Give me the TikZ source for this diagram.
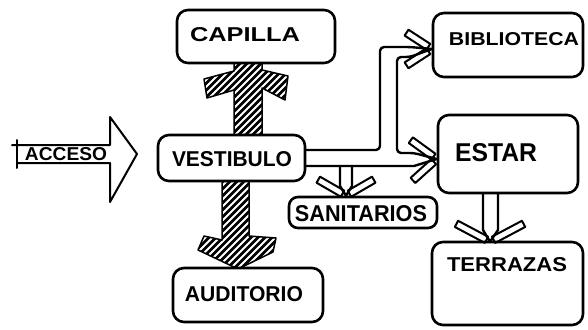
\documentclass[tikz,border=0pt]{standalone}
\usepackage{fontspec}
\setmainfont{Liberation Sans}
\usetikzlibrary{calc}
\newcommand{\fitt}[3]{\resizebox{#1pt}{#2pt}{#3}}
\tikzset{
  box/.style={draw=black, line width=2.6pt, rounded corners=11pt, fill=white, inner sep=0pt},
  lbl/.style={inner sep=0pt, font=\bfseries},
  conn/.style={line width=2.4pt, line join=round, line cap=round},
  barbline/.style={line width=2pt, line join=round},
  pics/barbs/.style 2 args={code={
    \draw[barbline, rotate=#1] (4,-3.5) rectangle (#2,3.5);
    \draw[barbline, rotate=-#1] (4,-3.5) rectangle (#2,3.5);
  }},
  hatchline/.style={white, line width=2pt},
  hatchedge/.style={line width=1.5pt, line join=round}
}
\begin{document}
\begin{tikzpicture}[x=1pt, y=-1pt]
\useasboundingbox (0,0) rectangle (588,329);

% hatched arrow VESTIBULO -> CAPILLA
\begin{scope}
  \clip (234,135) -- (234,90) -- (207,98) -- (204,79) -- (234,71) -- (234,62) -- (262,62) -- (262,70) -- (288,76) -- (285,100) -- (262,88) -- (262,135) -- cycle;
  \fill[black] (190,55) rectangle (300,140);
  \foreach \k in {0,...,26} \draw[hatchline] (125+\k*7,140) -- ++(130,-130);
\end{scope}
\draw[hatchedge] (234,135) -- (234,90) -- (207,98) -- (204,79) -- (234,71) -- (234,62) -- (262,62) -- (262,70) -- (288,76) -- (285,100) -- (262,88) -- (262,135);

% hatched arrow VESTIBULO -> AUDITORIO
\begin{scope}
  \clip (222,180) -- (222,240) -- (204,236) -- (198,250) -- (236,268) -- (240,268) -- (273,252) -- (276,238) -- (249,236) -- (249,180) -- cycle;
  \fill[black] (190,175) rectangle (285,275);
  \foreach \k in {0,...,28} \draw[hatchline] (100+\k*7,280) -- ++(130,-130);
\end{scope}
\draw[hatchedge] (222,180) -- (222,240) -- (204,236) -- (198,250) -- (236,268) -- (240,268) -- (273,252) -- (276,238) -- (249,236) -- (249,180);

% boxes
\node[box, minimum width=158pt, minimum height=53pt] (cap) at (256,36.5) {};
\node[box, minimum width=147pt, minimum height=46pt] (vest) at (231.5,158) {};
\node[box, minimum width=150pt, minimum height=64pt] (bib) at (508,45) {};
\node[box, minimum width=140pt, minimum height=78pt] (estar) at (508,154) {};
\node[box, minimum width=151pt, minimum height=83pt] (terr) at (507.5,283.5) {};
\node[box, minimum width=148pt, minimum height=31pt, rounded corners=9pt] (sani) at (363,212.5) {};
\node[box, minimum width=150pt, minimum height=54pt] (aud) at (248,295) {};

% labels
\node[lbl] (capt) at (245,35) {\fitt{110}{14}{CAPILLA}};
\node[lbl] (vestt) at (232,159) {\fitt{120}{15}{VESTIBULO}};
\node[lbl] (bibt) at (514,39.5) {\fitt{130}{13}{BIBLIOTECA}};
\node[lbl] (estart) at (496,153) {\fitt{82}{18}{ESTAR}};
\node[lbl] (sanit) at (361,213.5) {\fitt{132}{16}{SANITARIOS}};
\node[lbl] (terrt) at (507,264.5) {\fitt{120}{14}{TERRAZAS}};
\node[lbl] (audt) at (244,294.5) {\fitt{118}{15}{AUDITORIO}};

% ACCESO arrow
\node[lbl] (acc) at (66,154) {\fitt{82}{13}{ACCESO}};
\draw[conn, line width=2pt] (12,145) -- (110,145) -- (110,117) -- (137,154) -- (110,202) -- (110,163) -- (17,163);
\draw[conn, line width=2pt] (17,140) -- (17,168);

% tips
\coordinate (bibtip) at ($(bib.west)+(0,4)$);
\coordinate (estip) at ($(estar.west)+(0,5)$);
\coordinate (sanitip) at ($(sani.north)+(-17,0)$);
\coordinate (tertip) at ($(terr.north)+(-17.5,1)$);

% connectors
\draw[conn, rounded corners=4pt] ($(vest.east)+(0,-8)$) -- (380,150) -- (380,47) -- (410,47) -- (bibtip);
\draw[conn, rounded corners=4pt] (bibtip) -- (410,57) -- (397,57) -- (397,153) -- (414,153) -- (estip);
\draw[conn] ($(vest.east)+(0,8)$) -- (414,166) -- (estip);
\draw[conn] (340,166) -- (340,186) -- (sanitip);
\draw[conn] (352,166) -- (352,186) -- (sanitip);
\draw[conn] (483,193) -- (483,230) -- (tertip);
\draw[conn] (498,193) -- (498,230) -- (tertip);

% arrowheads
\pic at (bibtip) {barbs={147}{30}};
\pic[rotate=3] at (estip) {barbs={141}{32}};
\pic[rotate=-90] at (sanitip) {barbs={120}{32}};
\pic[rotate=-90] at (tertip) {barbs={118}{38}};
\end{tikzpicture}
\end{document}
